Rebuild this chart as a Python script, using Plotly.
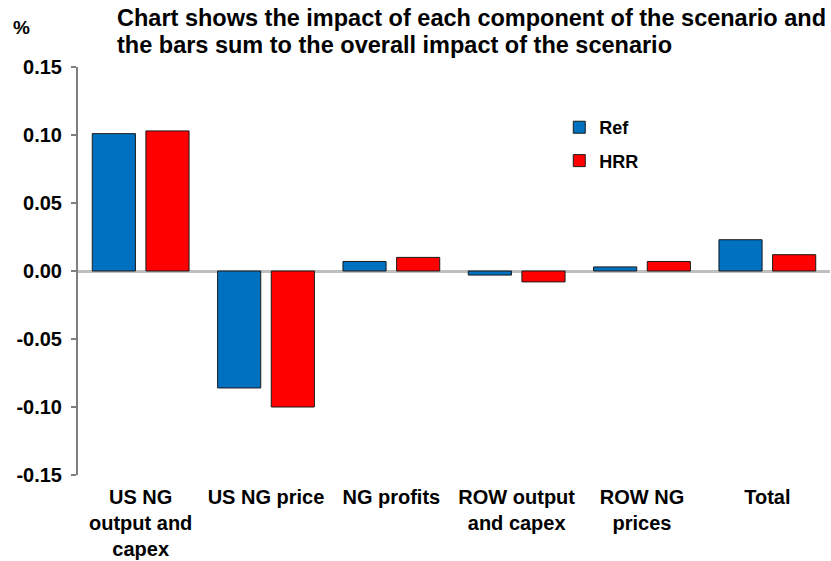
import plotly.graph_objects as go

# Scenario components and their impact (%)
categories = [
    "US NG<br>output and<br>capex",
    "US NG price",
    "NG profits",
    "ROW output<br>and capex",
    "ROW NG<br>prices",
    "Total",
]
ref_values = [0.101, -0.086, 0.007, -0.003, 0.003, 0.023]
hrr_values = [0.103, -0.100, 0.010, -0.008, 0.007, 0.012]
y_ticks = [0.15, 0.10, 0.05, 0.00, -0.05, -0.10, -0.15]
title_lines = [
    "Chart shows the impact of each component of the scenario and",
    "the bars sum to the overall impact of the scenario",
]

FONT = "Liberation Sans, Arial, sans-serif"

fig = go.Figure()
fig.add_trace(go.Bar(
    x=categories, y=ref_values, name="Ref", legendgroup="ref",
    marker=dict(color="#0070C0", line=dict(color="#1a1a1a", width=1)),
))
fig.add_trace(go.Bar(
    x=categories, y=hrr_values, name="HRR", legendgroup="hrr",
    marker=dict(color="#FF0000", line=dict(color="#1a1a1a", width=1)),
))

# Two-line heading placed line by line above the plot area
annotations = [
    dict(text=line, xref="paper", yref="paper", x=(115 - 78) / 752, y=1.0,
         xanchor="left", yanchor="middle", align="left", showarrow=False,
         yshift=shift, font=dict(family=FONT, size=23.5, color="black", weight="bold"))
    for line, shift in zip(title_lines, [49, 22])
]
annotations.append(
    dict(text="<b>%</b>", xref="paper", yref="paper", x=(11 - 78) / 752, y=1.0,
         xanchor="left", yanchor="middle", showarrow=False, yshift=40,
         font=dict(family=FONT, size=19, color="black"))
)

fig.update_layout(
    width=831, height=561,
    margin=dict(l=78, r=1, t=67, b=84),
    paper_bgcolor="white", plot_bgcolor="white",
    barmode="group", bargap=0.144, bargroupgap=0.196,
    font=dict(family=FONT, size=20, color="black"),
    showlegend=True,
    legend=dict(
        x=0.64, y=0.897, xanchor="left", yanchor="top",
        traceorder="grouped", tracegroupgap=7,
        font=dict(family=FONT, size=18, color="black", weight="bold"),
        bgcolor="rgba(0,0,0,0)", itemwidth=30,
    ),
    xaxis=dict(
        showline=False, ticks="", showgrid=False,
        tickfont=dict(family=FONT, size=20, color="black", weight="bold"),
        ticklabelstandoff=8,
    ),
    yaxis=dict(
        range=[-0.15, 0.15], tickvals=y_ticks,
        ticktext=[f"{v:.2f}" for v in y_ticks],
        showline=True, linecolor="#7f7f7f", linewidth=2,
        ticks="outside", ticklen=5, tickwidth=2, tickcolor="#7f7f7f",
        showgrid=False, zeroline=True, zerolinecolor="#bfbfbf", zerolinewidth=3,
        tickfont=dict(family=FONT, size=20, color="black", weight="bold"),
        ticklabelstandoff=5,
    ),
    annotations=annotations,
)

fig.write_html("out.html")
